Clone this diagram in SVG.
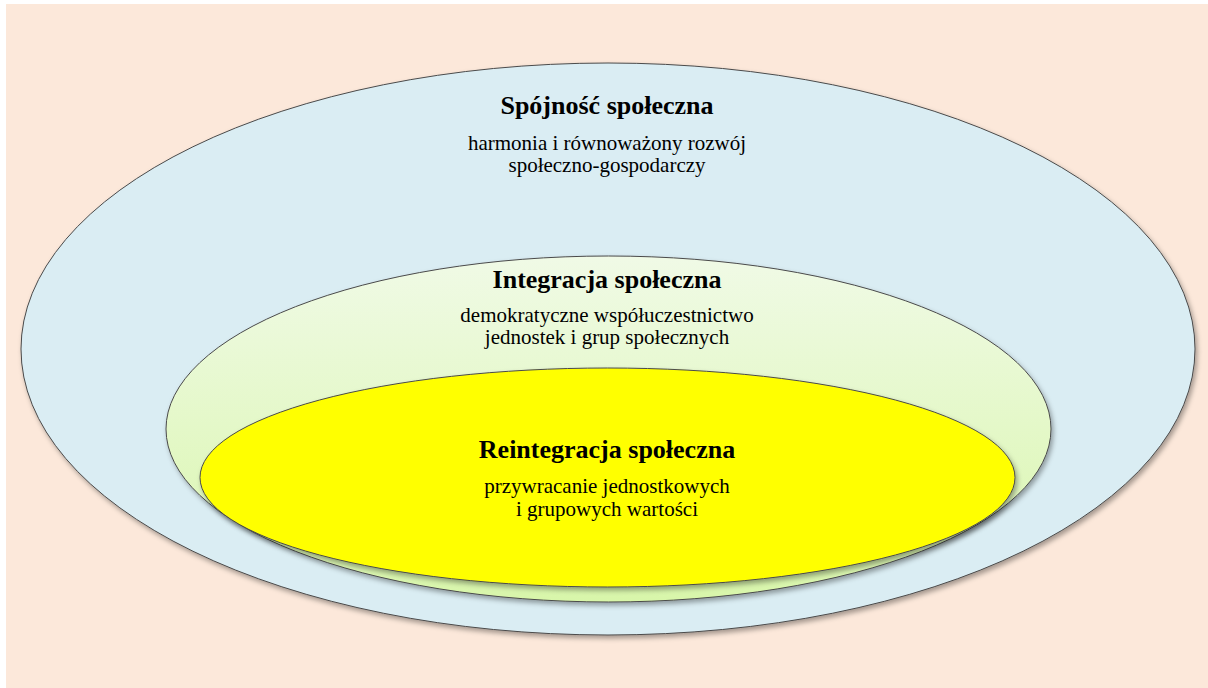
<svg xmlns="http://www.w3.org/2000/svg" width="1208" height="688" viewBox="0 0 1208 688">
  <defs>
    <filter id="shadow" x="-10%" y="-10%" width="120%" height="125%">
      <feDropShadow dx="2" dy="3" stdDeviation="2.5" flood-color="#000" flood-opacity="0.35"/>
    </filter>
    <linearGradient id="gGreen" x1="0" y1="0" x2="0" y2="1">
      <stop offset="0" stop-color="#F0FAE6"/>
      <stop offset="1" stop-color="#D8F6AA"/>
    </linearGradient>
    <style>
      .ell { stroke: #4a4a4a; stroke-width: 1; filter: url(#shadow); }
      .title { font-family: "Liberation Serif", "Times New Roman", serif; font-weight: bold; font-size: 26px; fill: #000; text-anchor: middle; }
      .sub { font-family: "Liberation Serif", "Times New Roman", serif; font-size: 21px; fill: #000; text-anchor: middle; }
    </style>
  </defs>
  <rect x="0" y="0" width="1208" height="688" fill="#ffffff"/>
  <rect x="6" y="4" width="1202" height="684" fill="#FCE8DA"/>

  <g id="spojnosc">
    <ellipse class="ell" cx="608" cy="349" rx="587" ry="286" fill="#DAEDF3"/>
    <text class="title" x="607" y="114">Spójność społeczna</text>
    <text class="sub" x="607" y="150">harmonia i równoważony rozwój</text>
    <text class="sub" x="607" y="172">społeczno-gospodarczy</text>
  </g>

  <g id="integracja">
    <ellipse class="ell" cx="608.5" cy="429" rx="442.5" ry="173" fill="url(#gGreen)"/>
    <text class="title" x="607" y="288">Integracja społeczna</text>
    <text class="sub" x="607" y="322">demokratyczne współuczestnictwo</text>
    <text class="sub" x="607" y="344">jednostek i grup społecznych</text>
  </g>

  <g id="reintegracja">
    <ellipse class="ell" cx="607.5" cy="477.5" rx="407.5" ry="109.5" fill="#FFFF00"/>
    <text class="title" x="607" y="458">Reintegracja społeczna</text>
    <text class="sub" x="607" y="493">przywracanie jednostkowych</text>
    <text class="sub" x="607" y="515.5">i grupowych wartości</text>
  </g>

  <g id="connectors"></g>
</svg>
